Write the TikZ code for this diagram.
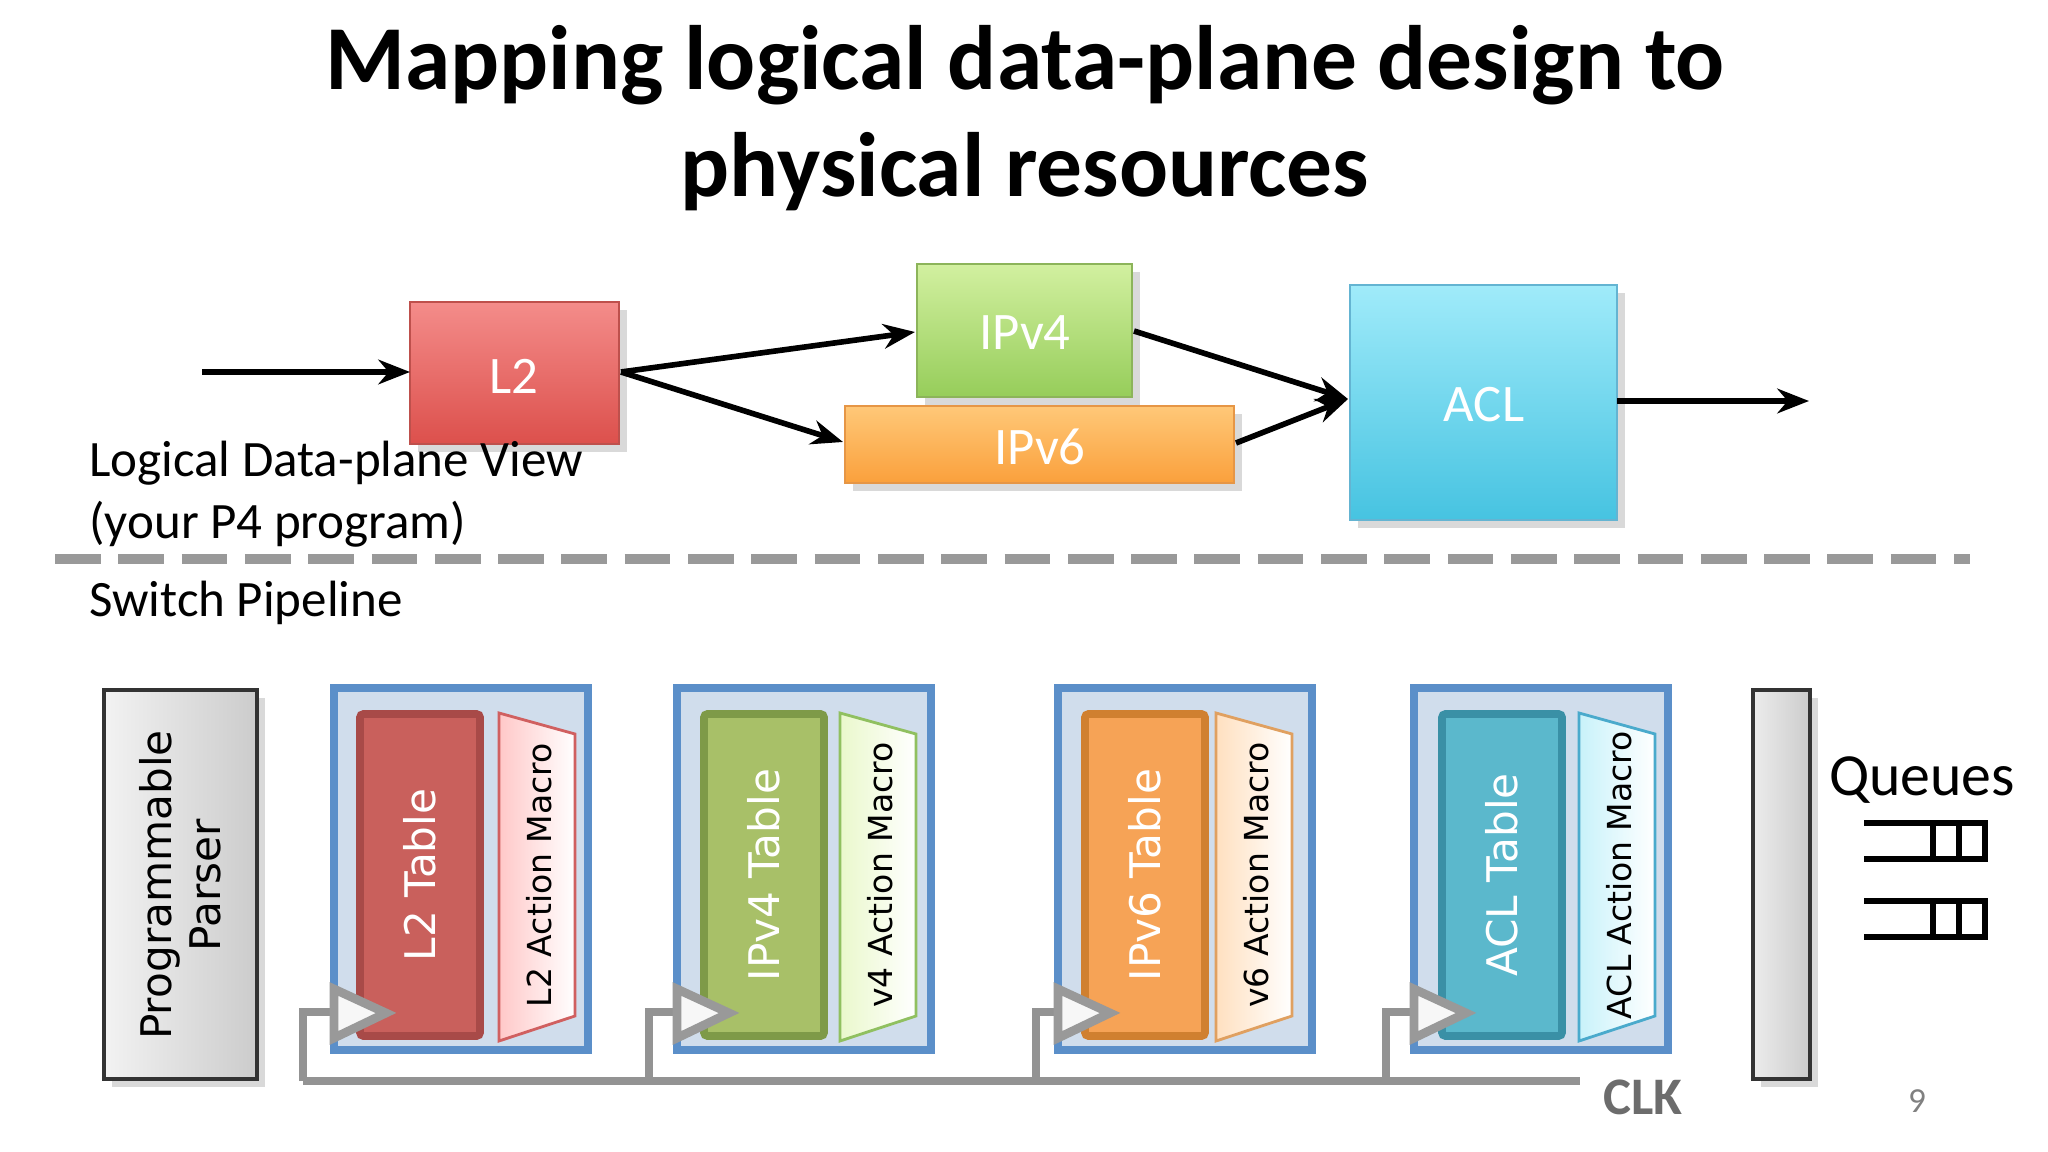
\documentclass[tikz,border=0pt]{standalone}
\usepackage{fontspec}
\setmainfont{Carlito}
\newfontfamily\dvs{DejaVu Sans}
\usetikzlibrary{shadows,arrows.meta}
\definecolor{cstage}{HTML}{D0DDEC}
\definecolor{sborder}{HTML}{5B8FC9}
\begin{document}
\begin{tikzpicture}[x=0.01cm,y=-0.01cm,
 lbox/.style={line width=0.8pt,drop shadow={opacity=0.3}},
 lab/.style={text=white,font=\fontsize{15}{18}\selectfont},
 arr/.style={->,>={Stealth[length=9pt,width=7pt]},line width=1.6pt},
 rt/.style={rotate=90,font=\dvs\fontsize{12}{14}\selectfont},
 mt/.style={rotate=90,font=\dvs\fontsize{9.4}{11}\selectfont},
 clk/.style={draw=gray!85,line width=2.2pt},
 trig/.style={draw=gray!80,fill=white!94!gray,line width=2.5pt,line join=miter}]
\useasboundingbox (0,0) rectangle (2048,1152);
\node[font=\bfseries\fontsize{26}{30}\selectfont] (t1) at (1025,65) {Mapping logical data-plane design to};
\node[font=\bfseries\fontsize{26}{30}\selectfont] (t2) at (1025,172) {physical resources};
% logical view
\path[lbox,top color={rgb,255:red,244;green,140;blue,138},bottom color={rgb,255:red,220;green,80;blue,76},draw={rgb,255:red,190;green,80;blue,76}] (410,302) rectangle (619,444);
\node[lab] (L2) at (514,376) {L2};
\path[lbox,top color={rgb,255:red,210;green,240;blue,160},bottom color={rgb,255:red,150;green,205;blue,90},draw={rgb,255:red,140;green,180;blue,90}] (917,264) rectangle (1132,397);
\node[lab] (v4) at (1025,333) {IPv4};
\path[lbox,top color={rgb,255:red,255;green,200;blue,120},bottom color={rgb,255:red,250;green,160;blue,60},draw={rgb,255:red,230;green,150;blue,70}] (845,406) rectangle (1234,483);
\node[lab] (v6) at (1040,447) {IPv6};
\path[lbox,top color={rgb,255:red,160;green,235;blue,250},bottom color={rgb,255:red,70;green,195;blue,225},draw={rgb,255:red,100;green,180;blue,210}] (1350,285) rectangle (1617,520);
\node[lab] (acl) at (1484,405) {ACL};
\coordinate (in) at (202,372);
\coordinate (l2w) at (410,372);
\coordinate (l2e) at (621,372);
\coordinate (v4w) at (915,332);
\coordinate (v4e) at (1134,331);
\coordinate (v6w) at (843,442);
\coordinate (v6e) at (1236,443);
\coordinate (aclw) at (1348,399);
\coordinate (acle) at (1617,401);
\coordinate (out) at (1809,401);
\draw[arr] (in) -- (l2w);
\draw[arr] (l2e) -- (v4w);
\draw[arr] (l2e) -- (v6w);
\draw[arr] (v4e) -- (aclw);
\draw[arr] (v6e) -- (aclw);
\draw[arr] (acle) -- (out);
\node[anchor=west,font=\fontsize{14.5}{17.5}\selectfont,align=left] (lv) at (77,494) {Logical Data-plane View\\(your P4 program)};
\draw[gray!80,line width=3pt,dash pattern=on 13pt off 5pt] (55,559) -- (1970,559);
\node[anchor=west,font=\fontsize{14.5}{17.5}\selectfont] (sp) at (77,603) {Switch Pipeline};
% parser
\path[draw=black!80,line width=1.2pt,left color=gray!10,right color=gray!40,drop shadow={opacity=0.3}] (104,690) rectangle (257,1079);
\node[rt,align=center] (pp) at (180,885) {Programmable\\Parser};
% stages
\foreach \sx/\tx/\mx/\tc/\tb/\mc/\md/\tl/\ml/\n in {
 334/360/499/C9605C/A84A48/FFC8C8/D06060/L2 Table/L2 Action Macro/a,
 677/704/840/A8C068/7E9A48/EAF8CC/90C060/IPv4 Table/v4 Action Macro/b,
 1058/1085/1216/F6A356/D08030/FFE0C0/E0A060/IPv6 Table/v6 Action Macro/c,
 1414/1442/1579/5BB8CC/3A90A6/C8F2FA/4AAACC/ACL Table/ACL Action Macro/d}{
 \definecolor{ctc}{HTML}{\tc}\definecolor{ctb}{HTML}{\tb}\definecolor{cmc}{HTML}{\mc}\definecolor{cmd}{HTML}{\md}
 \path[draw=sborder,line width=2.5pt,fill=cstage] (\sx,688) rectangle +(254,362);
 \path[fill=ctc,draw=ctb,line width=2.2pt,rounded corners=1pt] (\tx,714) rectangle +(120,322);
 \node[rt,text=white] (t\n) at (\tx+60,875) {\tl};
 \path[left color=cmc, right color=white,draw=cmd,line width=0.8pt] (\mx,713) -- (\mx+76,734) -- (\mx+76,1016) -- (\mx,1041) -- cycle;
 \node[mt] (m\n) at (\mx+40,875) {\ml};
}
% clock
\draw[clk] (303,1081) -- (1580,1081);
\foreach \cx/\tx in {303/334,649/677,1036/1058,1386/1414}{
 \draw[clk] (\cx,1081) -- (\cx,1012) -- (\tx,1012);
 \path[trig] (\tx,989) -- (\tx+52,1013) -- (\tx,1038) -- cycle;
}
\node[font=\bfseries\fontsize{15}{18}\selectfont,text=gray!85!black] (clkl) at (1643,1097) {CLK};
% right bar
\path[draw=black!80,line width=1.2pt,left color=gray!15,right color=gray!40,drop shadow={opacity=0.3}] (1753,690) rectangle (1810,1079);
\node[font=\fontsize{17}{20}\selectfont] (q) at (1922,780) {Queues};
\foreach \qy in {823,901}{
 \draw[line width=1.8pt] (1864,\qy) -- (1985,\qy) -- (1985,\qy+36) -- (1864,\qy+36);
 \draw[line width=1.8pt] (1933,\qy) -- (1933,\qy+36) (1959,\qy) -- (1959,\qy+36);
}
\node[text=gray,font=\fontsize{10}{12}\selectfont] (pg) at (1917,1101) {9};
\end{tikzpicture}
\end{document}
